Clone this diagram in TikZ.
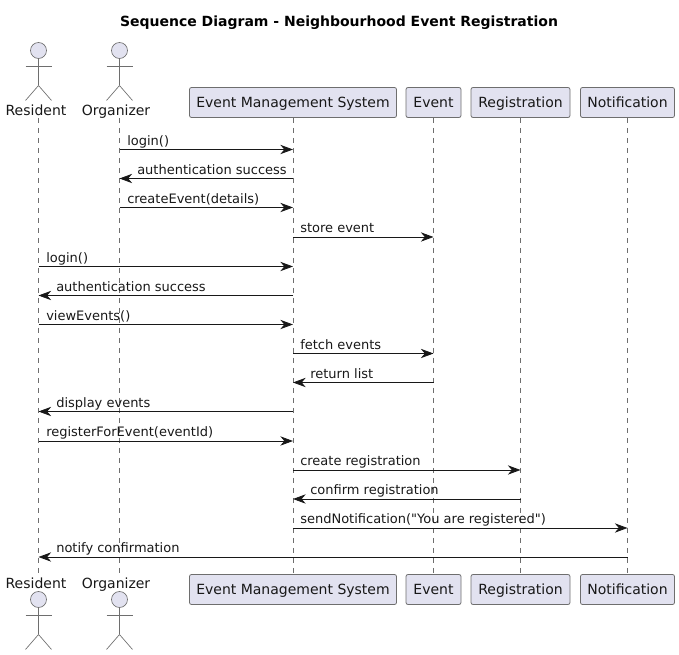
\documentclass[tikz,border=0pt]{standalone}
\usepackage{fontspec}
\setmainfont{DejaVu Sans}
\usetikzlibrary{arrows.meta}
\definecolor{partfill}{HTML}{E2E2F0}
\definecolor{partline}{HTML}{6E6E6E}
\definecolor{msgtext}{HTML}{181818}
\tikzset{
  partbox/.style={draw=partline, fill=partfill, line width=0.6pt, rounded corners=1.5pt, minimum height=22.5pt, inner sep=0pt, text height=9.75pt, text depth=1.5pt, text=msgtext, font=\fontsize{10.5}{12}\selectfont},
  actorname/.style={inner sep=0pt, text height=10.25pt, text depth=1.25pt, text=msgtext, font=\fontsize{10.5}{12}\selectfont},
  lifeline/.style={draw=partline, line width=0.5pt, dash pattern=on 3.75pt off 3.75pt},
  actorline/.style={draw=partline, line width=0.5pt},
  msg/.style={draw=msgtext, line width=0.6pt, -{Stealth[length=9.5pt,width=7pt,inset=3pt]}},
  msglabel/.style={inner sep=0pt, anchor=base west, text=msgtext, font=\fontsize{9.75}{12}\selectfont}
}
% one stick figure, head at (#1,#2)
\newcommand{\stickactor}[2]{
  \draw[actorline, fill=partfill] (#1,#2) circle (8);
  \draw[actorline] (#1,#2+8) -- (#1,#2+35);
  \draw[actorline] (#1-13,#2+16) -- (#1+13,#2+16);
  \draw[actorline] (#1-13,#2+50) -- (#1,#2+35) -- (#1+13,#2+50);
}
\begin{document}
\begin{tikzpicture}[x=0.75pt, y=-0.75pt]
\useasboundingbox (0,0) rectangle (679,655);

% Title
\node[inner sep=0pt, font=\fontsize{10.5}{12}\selectfont\bfseries] (title) at (339,23) {Sequence Diagram - Neighbourhood Event Registration};

% Actors
\stickactor{38.5}{50.5}
\stickactor{119.5}{50.5}
\stickactor{38.5}{599.5}
\stickactor{119.5}{599.5}
\node[actorname] (residenttop) at (36,110) {Resident};
\node[actorname] (organizertop) at (116,110) {Organizer};
\node[actorname] (residentbot) at (36,583) {Resident};
\node[actorname] (organizerbot) at (116,583) {Organizer};
\coordinate (residentx) at (38.5,0);
\coordinate (organizerx) at (119.5,0);

% Participants, top and bottom row
\foreach \name/\x/\w/\txt in {ems/293/207/Event Management System, event/433.5/55/Event, reg/520.5/99/Registration, notif/627.5/94/Notification} {
  \node[partbox, minimum width=\w*0.75pt] (\name top) at (\x,102.5) {\txt};
  \node[partbox, minimum width=\w*0.75pt] (\name bot) at (\x,589.5) {\txt};
  \draw[lifeline] (\name top) -- (\name bot);
  \coordinate (\name x) at (\x,0);
}
\draw[lifeline] (residentx |- residenttop.south) -- (residentx |- residentbot.north);
\draw[lifeline] (organizerx |- organizertop.south) -- (organizerx |- organizerbot.north);

% Messages
\foreach \y/\a/\b/\lft/\off/\txt in {
  149.5/organizer/ems/organizer/7.5/login(),
  178.5/ems/organizer/organizer/17.5/authentication success,
  207.5/organizer/ems/organizer/7.5/createEvent(details),
  237/ems/event/ems/7/store event,
  266.5/resident/ems/resident/7.5/login(),
  295.5/ems/resident/resident/17.5/authentication success,
  324.5/resident/ems/resident/7.5/viewEvents(),
  353.5/ems/event/ems/7/fetch events,
  382.5/event/ems/ems/17/return list,
  411.5/ems/resident/resident/17.5/display events,
  441/resident/ems/resident/7.5/registerForEvent(eventId),
  470/ems/reg/ems/7/create registration,
  499/reg/ems/ems/17/confirm registration,
  528/ems/notif/ems/7/sendNotification(\textquotedbl You are registered\textquotedbl),
  557/notif/resident/resident/17.5/notify confirmation} {
  \draw[msg] (\a x |- 0,\y) -- (\b x |- 0,\y);
  \path (\lft x |- 0,\y) ++(\off,-4) node[msglabel] {\txt};
}

\end{tikzpicture}
\end{document}
